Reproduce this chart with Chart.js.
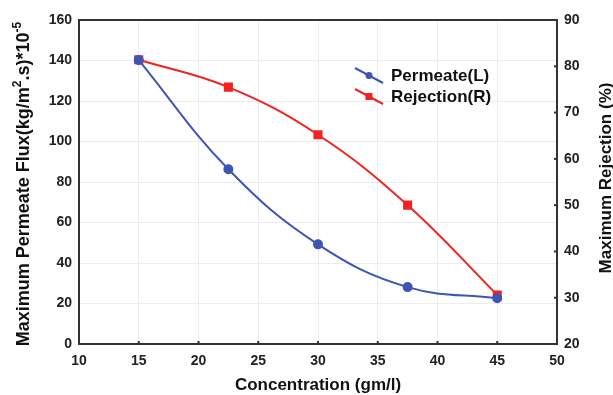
<!DOCTYPE html>
<html>
<head>
<meta charset="utf-8">
<script src="https://cdn.jsdelivr.net/npm/chart.js@4/dist/chart.umd.min.js"></script>
<style>
  html, body { margin: 0; padding: 0; background: #fff; }
  #wrap { width: 613px; height: 395px; }
</style>
</head>
<body>
<div id="wrap"><canvas id="fluxChart"></canvas></div>
<script>
// values
const concentration = [15, 22.5, 30, 37.5, 45];
const permeate = [140.2, 86.3, 49.2, 28.1, 22.6];
const rejection = [81.4, 75.5, 65.2, 50.0, 30.6];
const legendLabels = ['Permeate(L)', 'Rejection(R)'];
const xTitle = 'Concentration (gm/l)';
const y2Title = 'Maximum Rejection (%)';
// left title in parts: [text, superscript?]
const yTitleParts = [['Maximum Permeate Flux(kg/m', false], ['2', true], ['.s)*10', false], ['-5', true]];

const blue = '#3f55b4';
const red = '#f2231f';
const fontFamily = 'Liberation Sans, Arial, sans-serif';
const tickFont = { family: fontFamily, size: 14, weight: 'bold' };

// frame, small inward ticks and the axis titles
const framePlugin = {
  id: 'frame',
  afterDraw(chart) {
    const { ctx, chartArea: a, scales } = chart;
    ctx.save();
    ctx.strokeStyle = '#333';
    ctx.lineWidth = 2;
    ctx.strokeRect(a.left, a.top, a.right - a.left, a.bottom - a.top);
    ctx.fillStyle = '#333';
    scales.x.ticks.forEach(t => {
      const x = scales.x.getPixelForValue(t.value);
      ctx.fillRect(x - 1, a.bottom - 3, 2, 3);
    });
    scales.y2.ticks.forEach(t => {
      const y = scales.y2.getPixelForValue(t.value);
      ctx.fillRect(a.right - 3, y - 1, 3, 2);
    });

    ctx.fillStyle = '#111';
    ctx.textBaseline = 'middle';
    // x title
    ctx.font = 'bold 17px ' + fontFamily;
    ctx.textAlign = 'center';
    ctx.fillText(xTitle, 318, 385);

    // right title, reading bottom to top
    ctx.save();
    ctx.translate(606, 178);
    ctx.rotate(-Math.PI / 2);
    ctx.fillText(y2Title, 0, 0);
    ctx.restore();

    // left title with superscripts
    ctx.save();
    ctx.translate(24, 184);
    ctx.rotate(-Math.PI / 2);
    ctx.textAlign = 'left';
    const mainFont = 'bold 18px ' + fontFamily;
    const supFont = 'bold 12px ' + fontFamily;
    let total = 0;
    yTitleParts.forEach(p => {
      ctx.font = p[1] ? supFont : mainFont;
      total += ctx.measureText(p[0]).width;
    });
    let x = -total / 2;
    yTitleParts.forEach(p => {
      ctx.font = p[1] ? supFont : mainFont;
      ctx.fillText(p[0], x, p[1] ? -6 : 0);
      x += ctx.measureText(p[0]).width;
    });
    ctx.restore();
    ctx.restore();
  }
};

// legend with a short slanted line and marker, as in the picture
const legendPlugin = {
  id: 'slantLegend',
  afterDraw(chart) {
    const { ctx } = chart;
    const rows = [
      { y: 75, color: blue, style: 'circle' },
      { y: 96, color: red, style: 'rect' }
    ];
    ctx.save();
    rows.forEach((r, i) => {
      ctx.strokeStyle = r.color;
      ctx.lineWidth = 2;
      ctx.beginPath();
      ctx.moveTo(355, r.y - 7);
      ctx.lineTo(383, r.y + 8);
      ctx.stroke();
      ctx.fillStyle = r.color;
      if (r.style === 'circle') {
        ctx.beginPath();
        ctx.arc(369, r.y + 0.5, 3.5, 0, Math.PI * 2);
        ctx.fill();
      } else {
        ctx.fillRect(365.5, r.y - 3, 7, 7);
      }
      ctx.fillStyle = '#111';
      ctx.font = 'bold 17px ' + fontFamily;
      ctx.textBaseline = 'middle';
      ctx.fillText(legendLabels[i], 391, r.y + 1);
    });
    ctx.restore();
  }
};

new Chart(document.getElementById('fluxChart'), {
  type: 'line',
  data: {
    datasets: [{
      label: legendLabels[0],
      data: concentration.map((c, i) => ({ x: c, y: permeate[i] })),
      borderColor: blue,
      backgroundColor: blue,
      borderWidth: 2,
      pointStyle: 'circle',
      pointRadius: 4,
      tension: 0.4,
      yAxisID: 'y'
    }, {
      label: legendLabels[1],
      data: concentration.map((c, i) => ({ x: c, y: rejection[i] })),
      borderColor: red,
      backgroundColor: red,
      borderWidth: 2,
      pointStyle: 'rect',
      pointRadius: 5,
      tension: 0.4,
      yAxisID: 'y2'
    }]
  },
  options: {
    responsive: true,
    maintainAspectRatio: false,
    animation: false,
    layout: { padding: { top: 20, left: 0, right: 0, bottom: 0 } },
    plugins: { legend: { display: false }, tooltip: { enabled: false } },
    scales: {
      x: {
        type: 'linear',
        min: 10,
        max: 50,
        ticks: { stepSize: 5, color: '#222', font: tickFont, padding: 9 },
        grid: { color: '#ececec', tickLength: 0 },
        border: { display: false },
        afterFit(s) { s.height = 51; }
      },
      y: {
        position: 'left',
        min: 0,
        max: 160,
        ticks: { stepSize: 20, color: '#222', font: tickFont, padding: 7 },
        grid: { color: '#ececec', tickLength: 0 },
        border: { display: false },
        afterFit(s) { s.width = 79; }
      },
      y2: {
        position: 'right',
        min: 20,
        max: 90,
        ticks: { stepSize: 10, color: '#222', font: tickFont, padding: 7 },
        grid: { display: false, tickLength: 0 },
        border: { display: false },
        afterFit(s) { s.width = 56; }
      }
    }
  },
  plugins: [framePlugin, legendPlugin]
});
</script>
</body>
</html>
